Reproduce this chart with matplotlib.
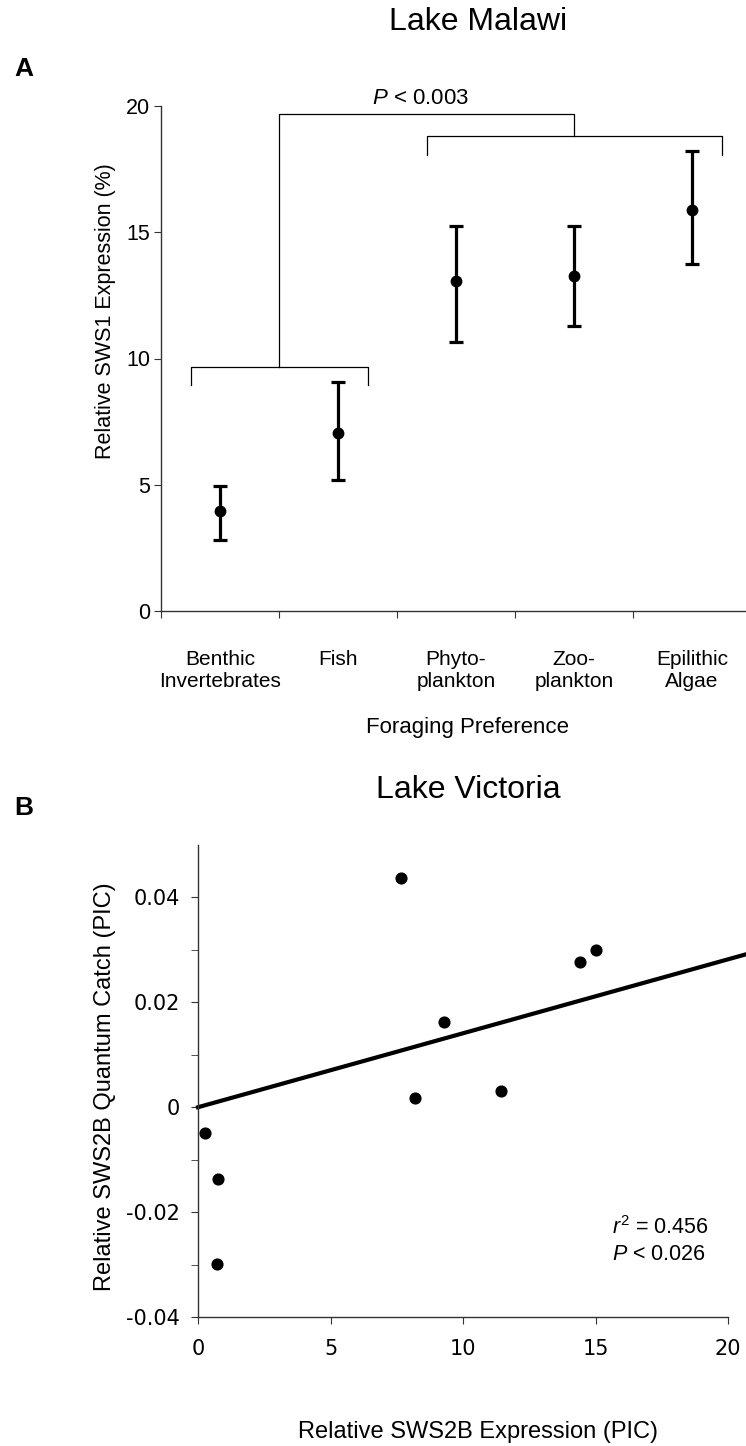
import matplotlib
matplotlib.use("Agg")
import matplotlib.pyplot as plt
import numpy as np

plt.rcParams['font.family'] = ['Liberation Sans', 'DejaVu Sans']
plt.rcParams['mathtext.fontset'] = 'custom'
plt.rcParams['mathtext.rm'] = 'Liberation Sans'
plt.rcParams['mathtext.it'] = 'Liberation Sans:italic'

# Panel A: Lake Malawi, SWS1 expression by foraging preference
categories = ["Benthic\nInvertebrates", "Fish", "Phyto-\nplankton", "Zoo-\nplankton", "Epilithic\nAlgae"]
sws1_mean = [3.95, 7.05, 13.05, 13.25, 15.9]
sws1_upper = [4.95, 9.05, 15.25, 15.25, 18.2]
sws1_lower = [2.8, 5.2, 10.65, 11.3, 13.75]

# significance brackets (x from, x to, leg bottom, bar level)
bracket_low = [-0.25, 1.25, 8.95, 9.65]
bracket_high = [1.75, 4.25, 18.05, 18.8]
bracket_top = 19.7

# Panel B: Lake Victoria, PIC scatter
pic_expr = [7.66, 14.41, 15.03, 9.30, 8.19, 11.42, 0.26, 0.75, 0.70]
pic_catch = [0.0438, 0.0277, 0.0300, 0.01625, 0.0018, 0.0031, -0.0049, -0.0136, -0.0298]
fit_slope = 0.00141
fit_xmax = 20.72

W, H = 746, 1446
fig = plt.figure(figsize=(W / 100, H / 100), dpi=100)

def box(l, t, r, b):
    return [l / W, 1 - b / H, (r - l) / W, (b - t) / H]

spine_col = '#333333'

# ---------- Panel A ----------
ax1 = fig.add_axes(box(161, 106, 751, 611))
x = np.arange(len(categories))
yerr = [np.array(sws1_mean) - np.array(sws1_lower), np.array(sws1_upper) - np.array(sws1_mean)]
ax1.errorbar(x, sws1_mean, yerr=yerr, fmt='o', color='black', ms=7.5,
             elinewidth=2.3, capsize=5, capthick=2.3)

ax1.plot([bracket_low[0], bracket_low[0], bracket_low[1], bracket_low[1]],
         [bracket_low[2], bracket_low[3], bracket_low[3], bracket_low[2]],
         color='black', lw=0.9, clip_on=False)
ax1.plot([bracket_high[0], bracket_high[0], bracket_high[1], bracket_high[1]],
         [bracket_high[2], bracket_high[3], bracket_high[3], bracket_high[2]],
         color='black', lw=0.9, clip_on=False)
mid_low = (bracket_low[0] + bracket_low[1]) / 2
mid_high = 3.0
ax1.plot([mid_low, mid_low, mid_high, mid_high],
         [bracket_low[3], bracket_top, bracket_top, bracket_high[3]],
         color='black', lw=0.9, clip_on=False)
ax1.text(1.7, 20.3, r'$P$ < 0.003', ha='center', va='center', fontsize=16)

ax1.set_xlim(-0.5, 4.5)
ax1.set_ylim(0, 20)
ax1.set_yticks([0, 5, 10, 15, 20])
ax1.set_xticks(np.arange(-0.5, 4.6, 1), minor=False)
ax1.set_xticklabels([])
ax1.set_xticks(x, minor=True)
ax1.set_xticklabels(categories, minor=True, fontsize=15)
ax1.tick_params(axis='x', which='minor', length=0, pad=28)
ax1.tick_params(axis='x', which='major', length=5, color=spine_col)
ax1.tick_params(axis='y', length=5, pad=3, labelsize=15.5, color=spine_col)
for s in ['top', 'right']:
    ax1.spines[s].set_visible(False)
for s in ['left', 'bottom']:
    ax1.spines[s].set_color(spine_col)
    ax1.spines[s].set_linewidth(1.0)

fig.text(478 / W, 1 - 22 / H, 'Lake Malawi', ha='center', va='center', fontsize=23)
fig.text(24 / W, 1 - 69 / H, 'A', ha='center', va='center', fontsize=19, fontweight='bold')
fig.text(105 / W, 1 - 311 / H, 'Relative SWS1 Expression (%)', rotation=90,
         ha='center', va='center', fontsize=15.5)
fig.text(467 / W, 1 - 727 / H, 'Foraging Preference', ha='center', va='center', fontsize=16)

# ---------- Panel B ----------
ax2 = fig.add_axes(box(198, 845, 728, 1317))
ax2.scatter(pic_expr, pic_catch, s=60, color='black', zorder=3)
fx = np.array([0, fit_xmax])
ax2.plot(fx, fit_slope * fx, color='black', lw=3, clip_on=False)

ax2.set_xlim(0, 20)
ax2.set_ylim(-0.04, 0.05)
ax2.set_xticks([0, 5, 10, 15, 20])
ax2.set_xticklabels(['0', '5', '10', '15', '20'])
ax2.set_yticks([-0.04, -0.02, 0, 0.02, 0.04])
ax2.set_yticklabels(['-0.04', '-0.02', '0', '0.02', '0.04'])
ax2.set_yticks([-0.03, -0.01, 0.01, 0.03], minor=True)
ax2.tick_params(axis='x', length=5, pad=11, color=spine_col)
ax2.tick_params(axis='y', which='both', length=5, pad=8, color=spine_col)
for lab in ax2.get_xticklabels() + ax2.get_yticklabels():
    lab.set_fontfamily('DejaVu Sans')
    lab.set_fontsize(15)
for s in ['top', 'right']:
    ax2.spines[s].set_visible(False)
for s in ['left', 'bottom']:
    ax2.spines[s].set_color(spine_col)
    ax2.spines[s].set_linewidth(1.0)

fig.text(612 / W, 1 - 1228 / H, r'$r^{2}$ = 0.456', ha='left', va='center', fontsize=15.5)
fig.text(612 / W, 1 - 1255 / H, r'$P$ < 0.026', ha='left', va='center', fontsize=15.5)

fig.text(468 / W, 1 - 790 / H, 'Lake Victoria', ha='center', va='center', fontsize=23)
fig.text(24 / W, 1 - 808 / H, 'B', ha='center', va='center', fontsize=19, fontweight='bold')
fig.text(105 / W, 1 - 1087 / H, 'Relative SWS2B Quantum Catch (PIC)', rotation=90,
         ha='center', va='center', fontsize=17)
fig.text(478 / W, 1 - 1432 / H, 'Relative SWS2B Expression (PIC)', ha='center', va='center', fontsize=17)

fig.savefig('out.png', dpi=100)
